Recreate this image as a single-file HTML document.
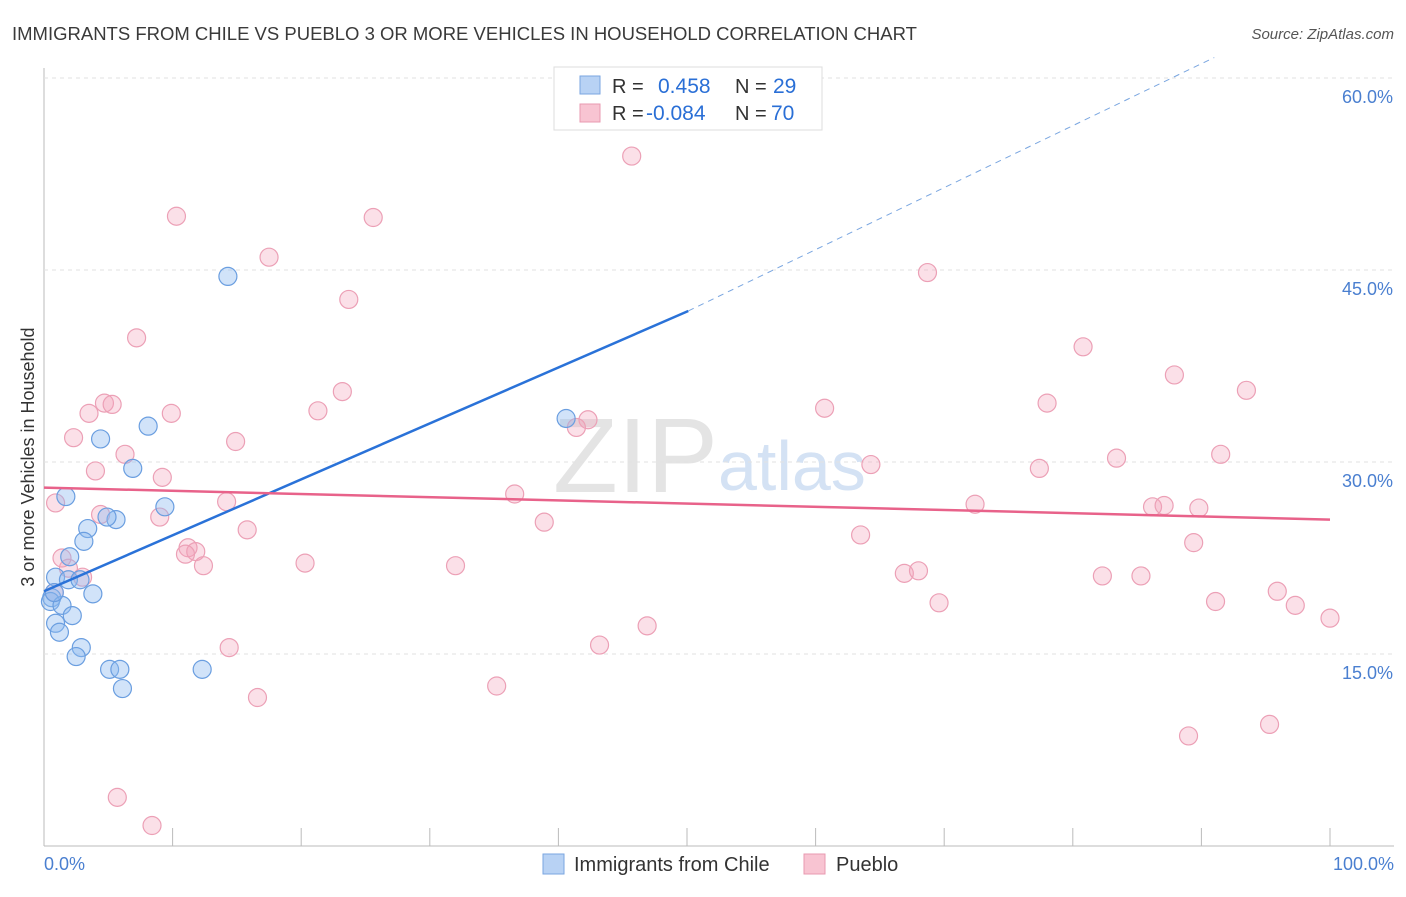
<!DOCTYPE html>
<html><head><meta charset="utf-8"><style>
body{margin:0;background:#fff;font-family:"Liberation Sans",sans-serif;}
svg text{font-family:"Liberation Sans",sans-serif;}
</style></head><body>
<svg id="c" width="1406" height="892">
<text x="12" y="40" font-size="18.5" fill="#3a3a3a">IMMIGRANTS FROM CHILE VS PUEBLO 3 OR MORE VEHICLES IN HOUSEHOLD CORRELATION CHART</text>
<text x="1394" y="39" font-size="15" fill="#555" font-style="italic" text-anchor="end">Source: ZipAtlas.com</text>
<text x="0" y="0" transform="translate(34,457) rotate(-90)" font-size="18" fill="#333" text-anchor="middle">3 or more Vehicles in Household</text>
<text x="553" y="492" font-size="106" fill="#e4e4e4" font-family="Liberation Serif">ZIP</text>
<text x="718" y="490" font-size="70" fill="#d4e2f4">atlas</text>
<g id="grid"></g><g id="pts"></g><g id="lines"></g>
<g>
<rect x="554" y="67" width="268" height="63" fill="#fff" stroke="#ddd"/>
<rect x="580" y="76" width="20" height="18" fill="#b8d2f4" stroke="#7aa6e0"/>
<rect x="580" y="104" width="20" height="18" fill="#f8c4d2" stroke="#e89ab0"/>
<text x="612" y="93" font-size="20" fill="#333">R =</text><text x="658" y="93" font-size="21" fill="#2a6fd6">0.458</text>
<text x="735" y="93" font-size="20" fill="#333">N =</text><text x="773" y="93" font-size="21" fill="#2a6fd6">29</text>
<text x="612" y="120" font-size="20" fill="#333">R =</text><text x="646" y="120" font-size="21" fill="#2a6fd6">-0.084</text>
<text x="735" y="120" font-size="20" fill="#333">N =</text><text x="771" y="120" font-size="21" fill="#2a6fd6">70</text>
</g>
<g>
<rect x="543" y="854" width="21" height="20" fill="#b8d2f4" stroke="#7aa6e0"/>
<text x="574" y="871" font-size="20" fill="#333">Immigrants from Chile</text>
<rect x="804" y="854" width="21" height="20" fill="#f8c4d2" stroke="#e89ab0"/>
<text x="836" y="871" font-size="20" fill="#333">Pueblo</text>
</g>
<text x="44" y="870" font-size="18" fill="#4a7fd0">0.0%</text>
<text x="1394" y="870" font-size="18" fill="#4a7fd0" text-anchor="end">100.0%</text>
</svg>
<script>
const yTicks=[15,30,45,60];
const yTickLabels=["15.0%","30.0%","45.0%","60.0%"];
const xTicks=[0,10,20,30,40,50,60,70,80,90,100];
const chileX=[1.7,4.4,8.1,6.9,9.4,5.6,4.9,3.4,3.1,2.0,0.9,1.9,2.8,3.8,0.6,0.5,1.4,2.2,0.9,1.2,2.9,2.5,5.1,5.9,6.1,12.3,14.3,40.6,0.8];
const chileY=[27.3,31.8,32.8,29.5,26.5,25.5,25.7,24.8,23.8,22.6,21.0,20.8,20.8,19.7,19.4,19.1,18.8,18.0,17.4,16.7,15.5,14.8,13.8,13.8,12.3,13.8,44.5,33.4,19.8];
const puebloX=[45.7,10.3,25.6,17.5,68.7,23.7,7.2,80.8,23.2,87.9,93.5,4.7,5.3,3.5,9.9,21.3,60.7,78.0,42.3,41.4,2.3,14.9,6.3,4.0,9.2,64.3,83.4,91.5,77.4,36.6,14.2,0.9,72.4,86.2,87.1,89.8,9.0,4.4,38.9,15.8,63.5,89.4,1.4,11.2,11.8,11.0,12.4,20.3,32.0,1.9,3.0,66.9,68.0,82.3,85.3,69.6,91.1,95.9,97.3,100.0,46.9,43.2,14.4,35.2,16.6,89.0,95.3,5.7,8.4,0.8];
const puebloY=[53.9,49.2,49.1,46.0,44.8,42.7,39.7,39.0,35.5,36.8,35.6,34.6,34.5,33.8,33.8,34.0,34.2,34.6,33.3,32.7,31.9,31.6,30.6,29.3,28.8,29.8,30.3,30.6,29.5,27.5,26.9,26.8,26.7,26.5,26.6,26.4,25.7,25.9,25.3,24.7,24.3,23.7,22.5,23.3,23.0,22.8,21.9,22.1,21.9,21.7,21.0,21.3,21.5,21.1,21.1,19.0,19.1,19.9,18.8,17.8,17.2,15.7,15.5,12.5,11.6,8.6,9.5,3.8,1.6,19.8];
const chileTrend=[0,19.9,50.1,41.8,91,61.6];
const puebloTrend=[0,28.0,100,25.5];
const NS="http://www.w3.org/2000/svg";
const X=v=>44+v*12.86, Y=v=>846-v*12.8;
function mk(t,a,p){const e=document.createElementNS(NS,t);for(const k in a)e.setAttribute(k,a[k]);p.appendChild(e);return e;}
const g=document.getElementById('grid');
const ax=mk('line',{x1:44,y1:68,x2:44,y2:846,stroke:'#bbb'},g);


const bx=mk('line',{x1:44,y1:846,x2:1394,y2:846,stroke:'#bbb'},g);


yTicks.forEach((t,i)=>{
 const l=mk('line',{x1:44,y1:Y(t),x2:1394,y2:Y(t),stroke:'#e2e2e2','stroke-dasharray':'4,4'},g);
 
 
 const tx=mk('text',{x:1393,y:Y(t)+25,'font-size':18,fill:'#4a7fd0','text-anchor':'end'},g);
 tx.textContent=yTickLabels[i];
 
 
});
xTicks.forEach(t=>{
 const l=mk('line',{x1:X(t),y1:828,x2:X(t),y2:846,stroke:'#bbb'},g);
 
 
});
const p=document.getElementById('pts');
puebloX.forEach((x,i)=>{
 const c=mk('circle',{cx:X(x),cy:Y(puebloY[i]),r:9,fill:'rgba(244,160,185,0.33)',stroke:'#eca0b6','stroke-width':1.2},p);
 
 
});
chileX.forEach((x,i)=>{
 const c=mk('circle',{cx:X(x),cy:Y(chileY[i]),r:9,fill:'rgba(140,185,240,0.4)',stroke:'#6a9ee0','stroke-width':1.2},p);
 
 
});
const L=document.getElementById('lines');
const t1=mk('line',{x1:X(chileTrend[0]),y1:Y(chileTrend[1]),x2:X(chileTrend[2]),y2:Y(chileTrend[3]),stroke:'#2a72d8','stroke-width':2.5},L);


const t2=mk('line',{x1:X(chileTrend[2]),y1:Y(chileTrend[3]),x2:X(chileTrend[4]),y2:Y(chileTrend[5]),stroke:'#7aa6e0','stroke-width':1,'stroke-dasharray':'6,5'},L);


const t3=mk('line',{x1:X(puebloTrend[0]),y1:Y(puebloTrend[1]),x2:X(puebloTrend[2]),y2:Y(puebloTrend[3]),stroke:'#e8628a','stroke-width':2.5},L);


</script>
</body></html>
